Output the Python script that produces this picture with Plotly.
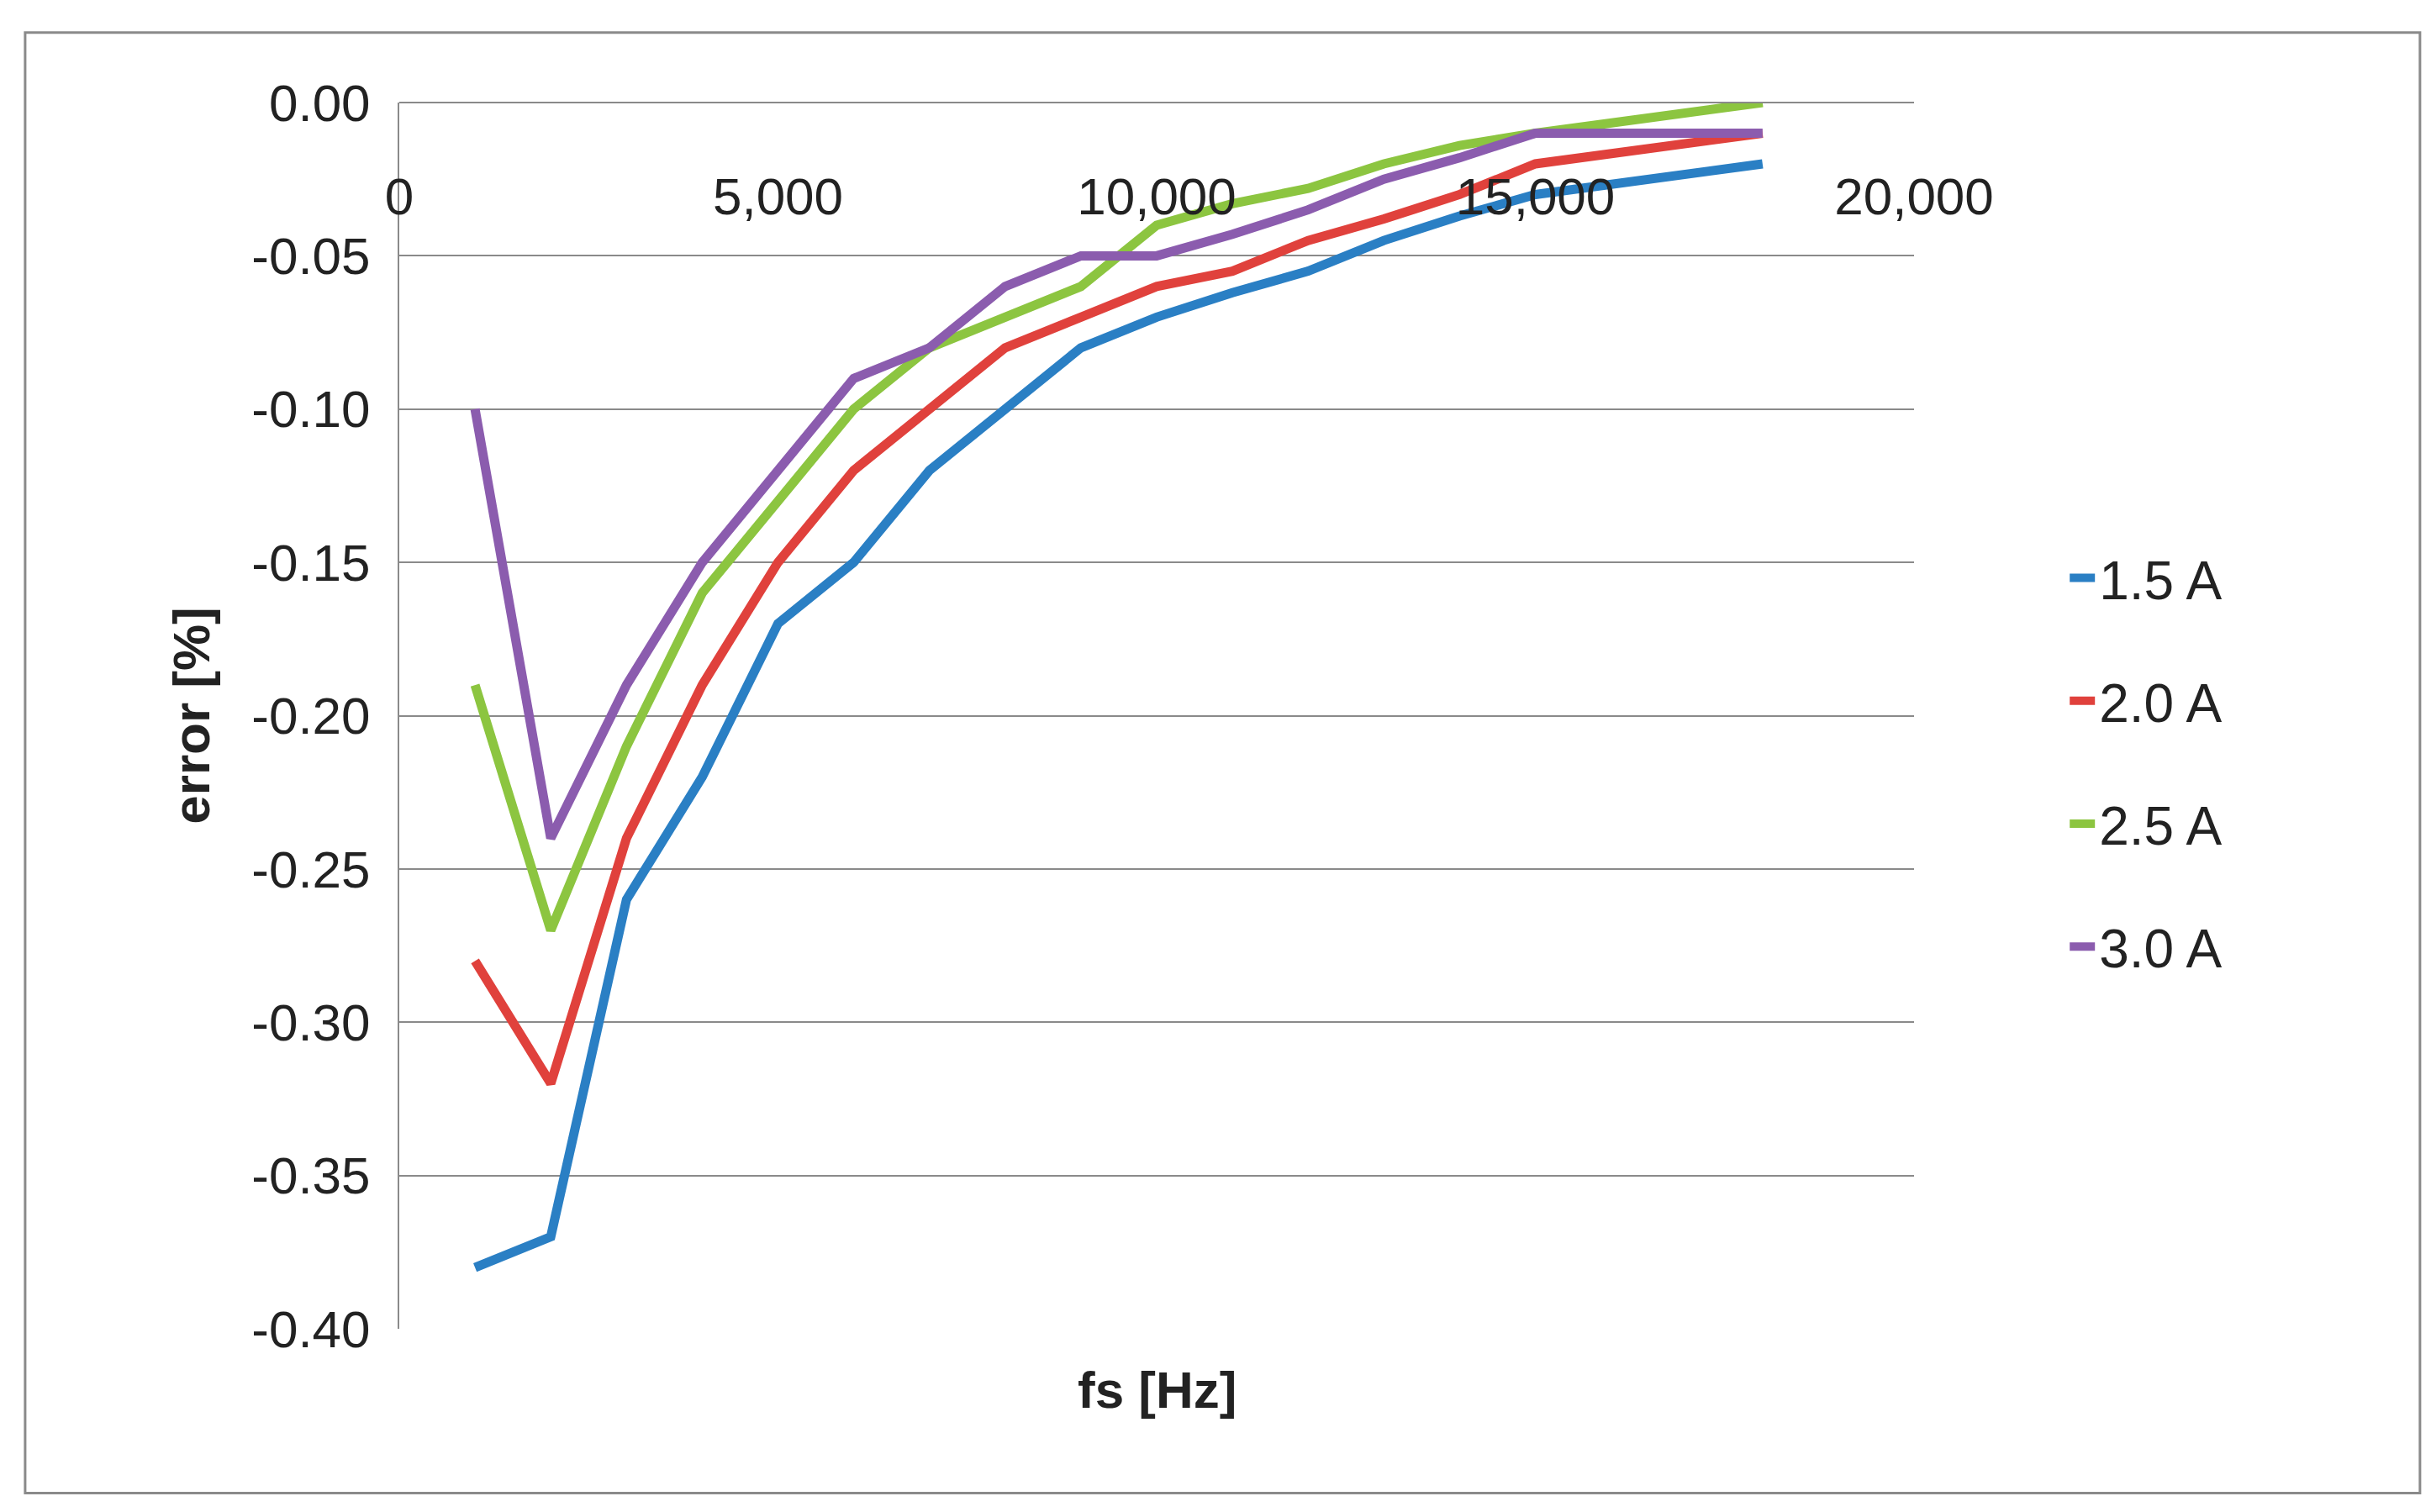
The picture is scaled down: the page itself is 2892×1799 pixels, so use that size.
import plotly.graph_objects as go

fs = [1000, 2000, 3000, 4000, 5000, 6000, 7000, 8000, 9000, 10000,
      11000, 12000, 13000, 14000, 15000, 18000]
err_15 = [-0.38, -0.37, -0.26, -0.22, -0.17, -0.15, -0.12, -0.10, -0.08, -0.07,
          -0.062, -0.055, -0.045, -0.037, -0.03, -0.02]
err_20 = [-0.28, -0.32, -0.24, -0.19, -0.15, -0.12, -0.10, -0.08, -0.07, -0.06,
          -0.055, -0.045, -0.038, -0.03, -0.02, -0.01]
err_25 = [-0.19, -0.27, -0.21, -0.16, -0.13, -0.10, -0.08, -0.07, -0.06, -0.04,
          -0.033, -0.028, -0.02, -0.014, -0.01, 0.00]
err_30 = [-0.10, -0.24, -0.19, -0.15, -0.12, -0.09, -0.08, -0.06, -0.05, -0.05,
          -0.043, -0.035, -0.025, -0.018, -0.01, -0.01]
names = ["1.5 A", "2.0 A", "2.5 A", "3.0 A"]
colors = ["#2a7fc4", "#e0413c", "#8cc540", "#8b5cae"]
y_ticks = [0, -0.05, -0.10, -0.15, -0.20, -0.25, -0.30, -0.35, -0.40]
y_labels = ["0.00", "-0.05", "-0.10", "-0.15", "-0.20", "-0.25", "-0.30", "-0.35", "-0.40"]

font = "Liberation Sans Narrow, Liberation Sans, sans-serif"
fig = go.Figure()
for i, (n, ys, c) in enumerate(zip(names, [err_15, err_20, err_25, err_30], colors)):
    fig.add_trace(go.Scatter(x=fs, y=ys, name=n, mode="lines", legendgroup=str(i),
                             line=dict(color=c, width=11)))

fig.update_layout(
    width=2892, height=1799,
    paper_bgcolor="white", plot_bgcolor="white",
    margin=dict(l=467, r=623, t=114, b=226),
    font=dict(family=font, size=62, color="#222"),
    showlegend=True,
    legend=dict(x=1.1, y=0.462, xanchor="left", yanchor="middle",
                traceorder="grouped", tracegroupgap=60, font=dict(size=64)),
    xaxis=dict(range=[0, 20000], dtick=5000, tickformat=",d", showgrid=False,
               anchor="free", position=1, side="bottom", showline=False,
               ticks="", zeroline=False, ticklabelstandoff=70),
    yaxis=dict(range=[-0.40, 0], tickvals=y_ticks, ticktext=y_labels, showgrid=True,
               gridcolor="#8a8a8a", gridwidth=2, showline=True, linecolor="#8a8a8a",
               linewidth=2, zeroline=False, ticks="", ticklabelstandoff=20,
               title=dict(text="<b>error [%]</b>", font=dict(size=62), standoff=30)),
    shapes=[
        dict(type="line", xref="paper", yref="paper", x0=0, x1=1, y0=1, y1=1,
             line=dict(color="#8a8a8a", width=2)),
        dict(type="rect", xref="paper", yref="paper", x0=-0.247, x1=1.334,
             y0=-0.134, y1=1.057, line=dict(color="#8a8a8a", width=3)),
    ],
    annotations=[dict(text="<b>fs [Hz]</b>", xref="paper", yref="paper", x=0.5,
                      y=-0.025, yanchor="top", showarrow=False, font=dict(size=62))],
)
fig.write_html("out.html")
